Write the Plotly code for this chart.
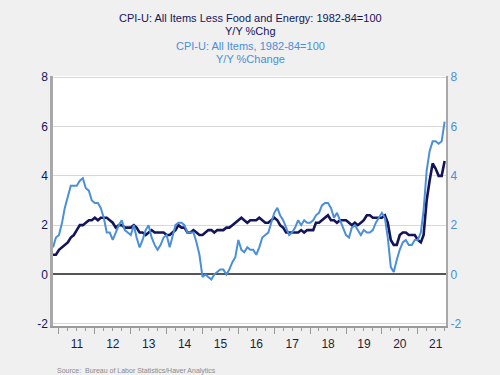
import plotly.graph_objects as go
import pandas as pd

months = pd.date_range("2010-11-01", "2021-10-01", freq="MS")

cpi_all = [
    1.1, 1.5,
    1.6, 2.1, 2.7, 3.2, 3.6, 3.6, 3.6, 3.8, 3.9, 3.5, 3.4, 3.0,
    2.9, 2.9, 2.7, 2.3, 1.7, 1.7, 1.4, 1.7, 2.0, 2.2, 1.8, 1.7,
    1.6, 2.0, 1.5, 1.1, 1.4, 1.8, 2.0, 1.5, 1.2, 1.0, 1.2, 1.5,
    1.6, 1.1, 1.5, 2.0, 2.1, 2.1, 2.0, 1.7, 1.7, 1.7, 1.3, 0.8,
    -0.1, 0.0, -0.1, -0.2, 0.0, 0.1, 0.2, 0.2, 0.0, 0.2, 0.5, 0.7,
    1.4, 1.0, 0.9, 1.1, 1.0, 1.0, 0.8, 1.1, 1.5, 1.6, 1.7, 2.1,
    2.5, 2.7, 2.4, 2.2, 1.9, 1.6, 1.7, 1.9, 2.2, 2.0, 2.2, 2.1,
    2.1, 2.2, 2.4, 2.5, 2.8, 2.9, 2.9, 2.7, 2.3, 2.5, 2.2, 1.9,
    1.6, 1.5, 1.9, 2.0, 1.8, 1.6, 1.8, 1.7, 1.7, 1.8, 2.1, 2.3,
    2.5, 2.3, 1.5, 0.3, 0.1, 0.6, 1.0, 1.3, 1.4, 1.2, 1.2, 1.4,
    1.4, 1.7, 2.6, 4.2, 5.0, 5.4, 5.4, 5.3, 5.4, 6.2,
]

cpi_core = [
    0.8, 0.8,
    1.0, 1.1, 1.2, 1.3, 1.5, 1.6, 1.8, 2.0, 2.0, 2.1, 2.2, 2.2,
    2.3, 2.2, 2.3, 2.3, 2.3, 2.2, 2.1, 1.9, 2.0, 2.0, 1.9, 1.9,
    1.9, 2.0, 1.9, 1.7, 1.7, 1.6, 1.7, 1.8, 1.7, 1.7, 1.7, 1.7,
    1.6, 1.6, 1.7, 1.8, 2.0, 1.9, 1.9, 1.7, 1.7, 1.8, 1.7, 1.6,
    1.6, 1.7, 1.8, 1.8, 1.7, 1.8, 1.8, 1.8, 1.9, 1.9, 2.0, 2.1,
    2.2, 2.3, 2.2, 2.1, 2.2, 2.2, 2.2, 2.3, 2.2, 2.1, 2.1, 2.2,
    2.3, 2.2, 2.0, 1.9, 1.7, 1.7, 1.7, 1.7, 1.7, 1.8, 1.7, 1.8,
    1.8, 1.8, 2.1, 2.1, 2.2, 2.3, 2.4, 2.2, 2.2, 2.1, 2.2, 2.2,
    2.2, 2.1, 2.0, 2.1, 2.0, 2.1, 2.2, 2.4, 2.4, 2.3, 2.3, 2.3,
    2.3, 2.4, 2.1, 1.4, 1.2, 1.2, 1.6, 1.7, 1.7, 1.6, 1.6, 1.6,
    1.4, 1.3, 1.6, 3.0, 3.8, 4.5, 4.3, 4.0, 4.0, 4.6,
]

y_ticks = [-2, 0, 2, 4, 6, 8]
y_tick_labels = ["-2", "0", "2", "4", "6", "8"]

navy = "#14145a"
light = "#4a8fd8"
font_family = "Liberation Sans, Arial, sans-serif"

fig = go.Figure()
fig.add_trace(go.Scatter(x=months, y=cpi_all, mode="lines", yaxis="y2",
                         line=dict(color=light, width=2), name="CPI-U: All Items"))
fig.add_trace(go.Scatter(x=months, y=cpi_core, mode="lines", yaxis="y",
                         line=dict(color=navy, width=2.6), name="CPI-U: Core"))

yr = [-2.09, 8.05]
fig.update_layout(
    width=500, height=375,
    margin=dict(l=53, r=54, t=76, b=49),
    paper_bgcolor="#f0f0f0",
    plot_bgcolor="#ffffff",
    showlegend=False,
    font=dict(family=font_family, size=11, color=navy),
    xaxis=dict(
        type="date",
        range=["2010-11-01", "2021-10-15"],
        tick0="2011-01-01", dtick="M12",
        ticklabelmode="period", tickformat="%y",
        ticks="outside", ticklen=6, tickcolor="#999999", tickwidth=1,
        minor=dict(dtick="M3", ticks="outside", ticklen=3, tickcolor="#999999", showgrid=False),
        showgrid=False, zeroline=False,
        showline=True, linecolor="#9a9a9a", linewidth=1.5,
        tickfont=dict(size=12, color="#1e1e3c"),
    ),
    yaxis=dict(
        range=yr, tickvals=y_ticks, ticktext=y_tick_labels,
        showgrid=True, gridcolor="#d8d8d8", gridwidth=1,
        zeroline=True, zerolinecolor="#555555", zerolinewidth=1.5,
        showline=True, linecolor="#a8a8a8", linewidth=2.5,
        ticks="", tickfont=dict(size=12, color=navy),
    ),
    yaxis2=dict(
        range=yr, tickvals=y_ticks, ticktext=y_tick_labels,
        overlaying="y", side="right",
        showgrid=False, zeroline=False,
        showline=True, linecolor="#a8a8a8", linewidth=2,
        ticks="", tickfont=dict(size=12, color=light),
    ),
)

def py(p):
    return (325.7 - p) / 250.0

titles = [
    ("CPI-U: All Items Less Food and Energy: 1982-84=100", 17.5, navy),
    ("Y/Y %Chg", 31, navy),
    ("CPI-U: All Items, 1982-84=100", 45.5, light),
    ("Y/Y %Change", 59, light),
]
for txt, yp, col in titles:
    fig.add_annotation(text=txt, xref="paper", yref="paper", x=(250 - 53) / 393, y=py(yp),
                       xanchor="center", yanchor="middle", showarrow=False,
                       font=dict(size=11, color=col, family=font_family))

fig.add_annotation(text="Source:  Bureau of Labor Statistics/Haver Analytics",
                   xref="paper", yref="paper", x=(55 - 53) / 393, y=py(371),
                   xanchor="left", yanchor="middle", showarrow=False,
                   font=dict(size=7, color="#8a8a8a", family=font_family))

fig.write_html("out.html", config={"displayModeBar": False},
               post_script="document.body.style.margin='0px';document.body.style.padding='0px';")
